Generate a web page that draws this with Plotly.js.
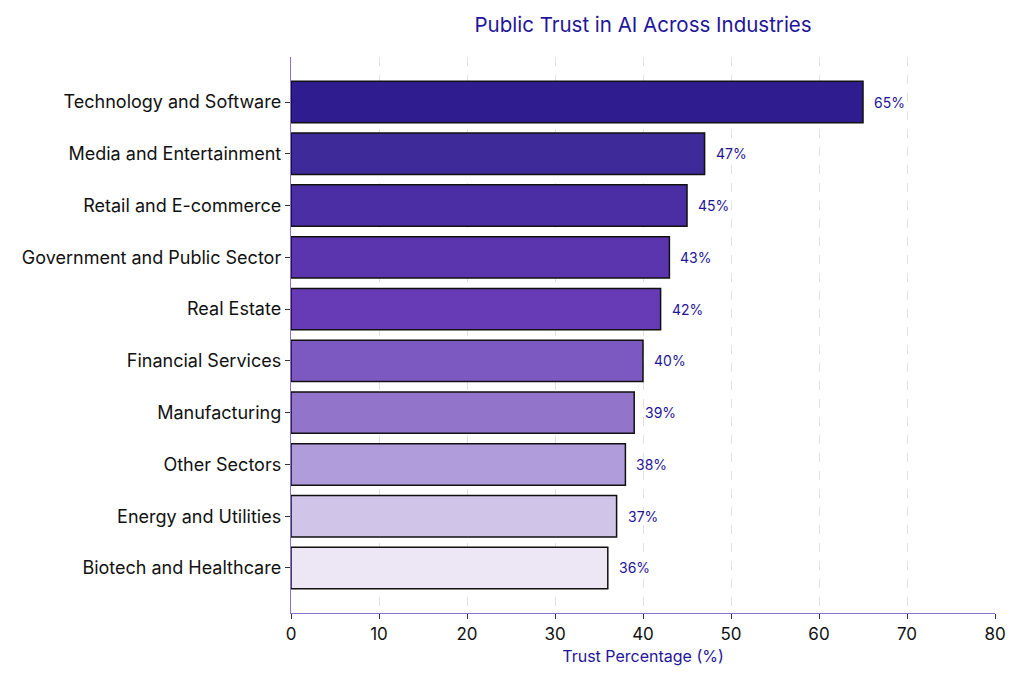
<!DOCTYPE html>
<html>
<head>
<meta charset="utf-8">
<script src="https://cdn.plot.ly/plotly-3.0.1.min.js"></script>
<style>
  html, body { margin: 0; padding: 0; background: #fff; }
  #chart { width: 1024px; height: 683px; }
</style>
</head>
<body>
<div id="chart"></div>
<script>
// industries, top to bottom
const industries = [
  'Technology and Software',
  'Media and Entertainment',
  'Retail and E-commerce',
  'Government and Public Sector',
  'Real Estate',
  'Financial Services',
  'Manufacturing',
  'Other Sectors',
  'Energy and Utilities',
  'Biotech and Healthcare'
];
const trust = [65, 47, 45, 43, 42, 40, 39, 38, 37, 36];
const barColors = [
  '#2f1c8f', '#3f2a9a', '#4b2ea3', '#5a35ad', '#673bb6',
  '#7b59c0', '#9274cb', '#b09cdb', '#d0c5e8', '#ece6f5'
];
const xTicks = [0, 10, 20, 30, 40, 50, 60, 70, 80];

const fontFam = 'Inter, "Open Sans", sans-serif';
const navy = '#1f1599';

let trustBars = {
  type: 'bar',
  orientation: 'h',
  y: industries,
  x: trust,
  width: 0.8,
  marker: {
    color: barColors,
    line: { color: '#111111', width: 1.5 }
  },
  hoverinfo: 'none'
};

// value labels just right of each bar
let valueLabels = industries.map((name, i) => ({
  x: trust[i],
  y: name,
  xref: 'x',
  yref: 'y',
  text: trust[i] + '%',
  showarrow: false,
  xanchor: 'left',
  yanchor: 'middle',
  xshift: 9,
  font: { family: fontFam, size: 14, color: navy }
}));

let layout = {
  width: 1024,
  height: 683,
  margin: { l: 291, r: 29, t: 57, b: 70 },
  paper_bgcolor: '#ffffff',
  plot_bgcolor: '#ffffff',
  showlegend: false,
  font: { family: fontFam, color: '#111111' },
  title: {
    text: 'Public Trust in AI Across Industries',
    font: { family: fontFam, size: 20.5, color: navy },
    x: 0.628, xanchor: 'center',
    y: 0.963, yanchor: 'middle'
  },
  annotations: valueLabels,
  xaxis: {
    range: [0, 80],
    tickvals: xTicks,
    ticks: 'outside',
    ticklen: 5,
    tickcolor: '#333333',
    tickfont: { family: fontFam, size: 17, color: '#111111' },
    showgrid: true,
    gridcolor: '#e2e2e2',
    griddash: 'dash',
    gridwidth: 1,
    zeroline: false,
    showline: true,
    linecolor: '#8a6fd6',
    linewidth: 1.2,
    title: {
      text: 'Trust Percentage (%)',
      font: { family: fontFam, size: 16, color: navy },
      standoff: 8
    }
  },
  yaxis: {
    type: 'category',
    categoryorder: 'array',
    categoryarray: industries,
    range: [9.87, -0.87],
    ticks: 'outside',
    ticklen: 5,
    tickcolor: '#333333',
    tickfont: { family: fontFam, size: 18, color: '#111111' },
    showgrid: false,
    zeroline: false,
    showline: true,
    linecolor: '#8a6fd6',
    linewidth: 1.2
  },
  bargap: 0.2
};

Plotly.newPlot('chart', [trustBars], layout, { staticPlot: true, displayModeBar: false });
</script>
</body>
</html>
